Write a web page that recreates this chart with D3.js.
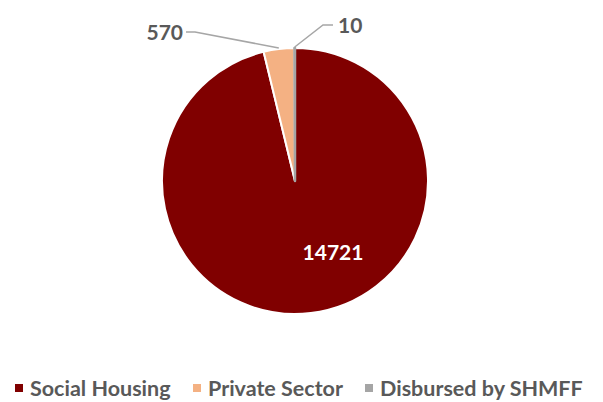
<!doctype html>
<html lang="en">
<head>
  <meta charset="utf-8">
  <style>
    body { margin: 0; background: #fff; }
    text { font-family: Lato, "Open Sans", sans-serif; font-weight: bold; }
  </style>
</head>
<body>
  <script src="https://d3js.org/d3.v7.min.js"></script>
  <div id="chart"></div>
  <script>
    // data
    var categories = ["Social Housing", "Private Sector", "Disbursed by SHMFF"];
    var values = [14721, 570, 10];
    var colors = ["#800000", "#F4B183", "#A5A5A5"];

    var width = 603, height = 402;
    var cx = 295, cy = 181, radius = 133;

    var svg = d3.select("#chart").append("svg")
                .attr("width", width)
                .attr("height", height);

    var g = svg.append("g").attr("transform", "translate(" + cx + "," + cy + ")");

    var pie = d3.pie().sort(null).value(function(d) { return d; });
    var arcs = pie(values);
    var arc = d3.arc().innerRadius(0).outerRadius(radius);

    g.selectAll("path").data(arcs).enter()
      .append("path")
      .attr("d", arc)
      .attr("fill", function(d, i) { return colors[i]; })
      // the tiny slice gets an outline in its own colour so it stays visible
      .attr("stroke", function(d, i) { return i == 2 ? colors[i] : "#fff"; })
      .attr("stroke-width", function(d, i) { return i == 2 ? 2.5 : 2; })
      .attr("stroke-linejoin", "round");

    // inside label for the big slice
    g.append("text")
      .attr("x", 38).attr("y", 79)
      .attr("text-anchor", "middle")
      .attr("fill", "#fff")
      .style("font-size", "21px")
      .text(values[0]);

    // outside labels with leader lines
    var outer = [
      {i: 1, lx: -112, ly: -149, anchor: "end", path: [[-109, -149], [-100, -149]]},
      {i: 2, lx: 43, ly: -156, anchor: "start", path: [[38, -156], [28, -156]]}
    ];
    outer.forEach(function(o) {
      var a = (arcs[o.i].startAngle + arcs[o.i].endAngle) / 2;
      var end = [Math.sin(a) * (radius + 1), -Math.cos(a) * (radius + 1)];
      var pts = o.path.concat([end]);
      g.append("path")
        .attr("d", d3.line()(pts))
        .attr("fill", "none")
        .attr("stroke", "#A6A6A6")
        .attr("stroke-width", 1.5);
      g.append("text")
        .attr("x", o.lx).attr("y", o.ly + 8)
        .attr("text-anchor", o.anchor)
        .attr("fill", "#595959")
        .style("font-size", "21px")
        .text(values[o.i]);
    });

    // legend
    var legendX = [15, 193, 365];
    var legend = svg.append("g").attr("class", "legend");
    categories.forEach(function(c, i) {
      legend.append("rect")
        .attr("x", legendX[i]).attr("y", 384)
        .attr("width", 8).attr("height", 8)
        .attr("fill", colors[i]);
      legend.append("text")
        .attr("x", legendX[i] + 15).attr("y", 396)
        .attr("fill", "#595959")
        .style("font-size", "21.5px")
        .text(c);
    });
  </script>
</body>
</html>
